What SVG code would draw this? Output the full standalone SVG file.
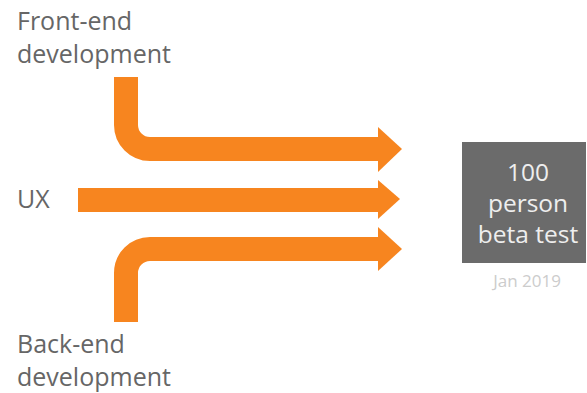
<svg xmlns="http://www.w3.org/2000/svg" width="587" height="393" viewBox="0 0 587 393">
<style>
.lbl{font-family:"Open Sans","Noto Sans",sans-serif;font-size:25px;fill:#666}
.box{fill:#6b6b6b}
.btxt{font-family:"Open Sans","Noto Sans",sans-serif;font-size:24.5px;fill:#eeeeee;text-anchor:middle}
.date{font-family:"Open Sans","Noto Sans",sans-serif;font-size:17px;fill:#cccccc;text-anchor:middle}
.shaft{fill:none;stroke:#f7851f;stroke-width:24}
.head{fill:#f7851f}
</style>
<rect width="587" height="393" fill="#fff"/>
<g id="frontend"><text class="lbl" x="17" y="30">Front-end</text><text class="lbl" x="17" y="63">development</text></g>
<g id="ux"><text class="lbl" x="17" y="208">UX</text></g>
<g id="backend"><text class="lbl" x="17" y="353">Back-end</text><text class="lbl" x="17" y="386">development</text></g>
<g id="beta"><rect class="box" x="462" y="142" width="124" height="121"/>
<text class="btxt" x="528" y="181">100</text>
<text class="btxt" x="528" y="212">person</text>
<text class="btxt" x="528" y="243">beta test</text>
<text class="date" x="527" y="287">Jan 2019</text></g>
<g id="connectors">
<path class="shaft" d="M126 77 V125 A24 24 0 0 0 150 149 H380"/>
<polygon class="head" points="378,127 402,149 378,172"/>
<path class="shaft" d="M78 200 H380"/>
<polygon class="head" points="378,180 400,199 378,219"/>
<path class="shaft" d="M126 322 V273 A24 24 0 0 1 150 249 H380"/>
<polygon class="head" points="378,227 402,249 378,271"/>
</g>
</svg>
